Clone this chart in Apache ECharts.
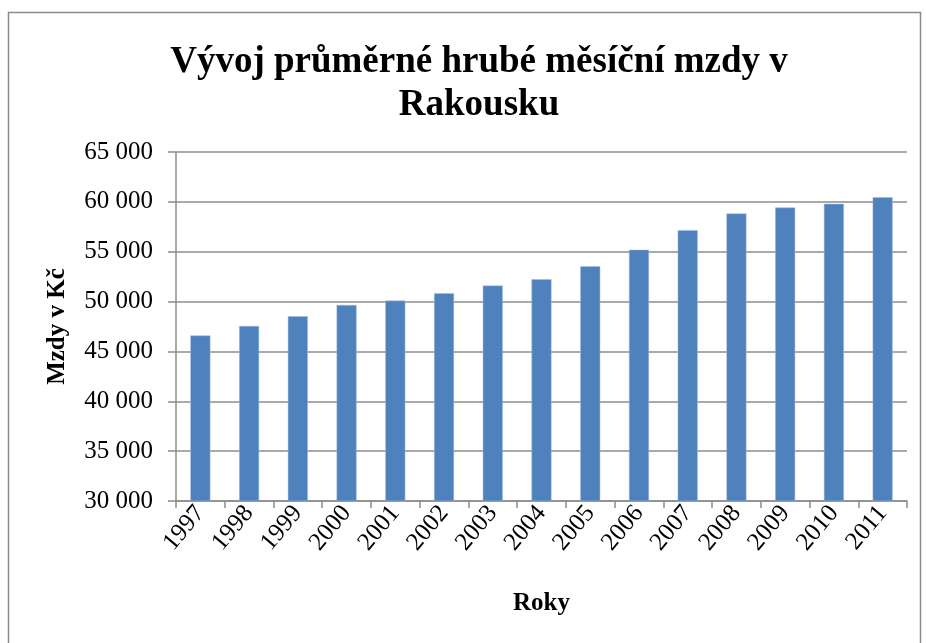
<!DOCTYPE html>
<html>
<head>
    <meta charset="utf-8">
    <title>Vývoj průměrné hrubé měsíční mzdy v Rakousku</title>
    <script src="https://cdn.jsdelivr.net/npm/echarts@6/dist/echarts.min.js"></script>
    <style type="text/css">
        html, body { margin: 0; padding: 0; background: #fff; }
        #main { width: 926px; height: 643px; }
    </style>
</head>
<body>
    <div id="main"></div>
    <script type="text/javascript">
        var roky = ['1997', '1998', '1999', '2000', '2001', '2002', '2003', '2004',
                    '2005', '2006', '2007', '2008', '2009', '2010', '2011'];
        var mzdy = [46600, 47560, 48530, 49660, 50100, 50830, 51600, 52230,
                    53530, 55200, 57160, 58830, 59430, 59800, 60460];
        var osaMin = 30000, osaMax = 65000, krok = 5000;

        var font = '"Liberation Serif", "Times New Roman", serif';
        var chart = echarts.init(document.getElementById('main'));

        function cislo(v) {
            return String(v).replace(/\B(?=(\d{3})+(?!\d))/g, ' ');
        }

        var option = {
            backgroundColor: '#fff',
            animation: false,
            title: {
                text: 'Vývoj průměrné hrubé měsíční mzdy v\nRakousku',
                left: 474,
                top: 36,
                textAlign: 'center',
                textStyle: {
                    fontFamily: font,
                    fontWeight: 'bold',
                    fontSize: 37,
                    lineHeight: 43,
                    color: '#000'
                }
            },
            graphic: [{
                type: 'rect',
                shape: { x: 8.5, y: 12.5, width: 912, height: 640 },
                style: { fill: 'none', stroke: '#8a8a8a', lineWidth: 1.5 },
                silent: true
            }],
            grid: { left: 176, right: 19, top: 152, bottom: 142 },
            xAxis: {
                type: 'category',
                data: roky,
                name: 'Roky',
                nameLocation: 'middle',
                nameGap: 90,
                nameTextStyle: { fontFamily: font, fontWeight: 'bold', fontSize: 25, color: '#000' },
                axisLine: { lineStyle: { color: '#8c8c8c', width: 1.5 } },
                axisTick: { show: true, length: 7, lineStyle: { color: '#8c8c8c', width: 1.5 } },
                axisLabel: {
                    rotate: 50,
                    margin: 8,
                    fontFamily: font,
                    fontSize: 25,
                    color: '#000'
                }
            },
            yAxis: {
                type: 'value',
                min: osaMin,
                max: osaMax,
                interval: krok,
                name: 'Mzdy v Kč',
                nameLocation: 'middle',
                nameGap: 106,
                nameRotate: 90,
                nameTextStyle: { fontFamily: font, fontWeight: 'bold', fontSize: 25, color: '#000' },
                axisLine: { show: true, lineStyle: { color: '#8c8c8c', width: 1.5 } },
                axisTick: { show: true, length: 8, lineStyle: { color: '#8c8c8c', width: 1.5 } },
                splitLine: { lineStyle: { color: '#8c8c8c', width: 1.5 } },
                axisLabel: {
                    margin: 23,
                    fontFamily: font,
                    fontSize: 25,
                    color: '#000',
                    formatter: cislo
                }
            },
            series: [{
                type: 'bar',
                data: mzdy,
                barWidth: 20,
                itemStyle: {
                    color: '#4f81bd',
                    borderColor: '#a7bfde',
                    borderWidth: 0.5
                }
            }]
        };
        chart.setOption(option);
    </script>
</body>
</html>
